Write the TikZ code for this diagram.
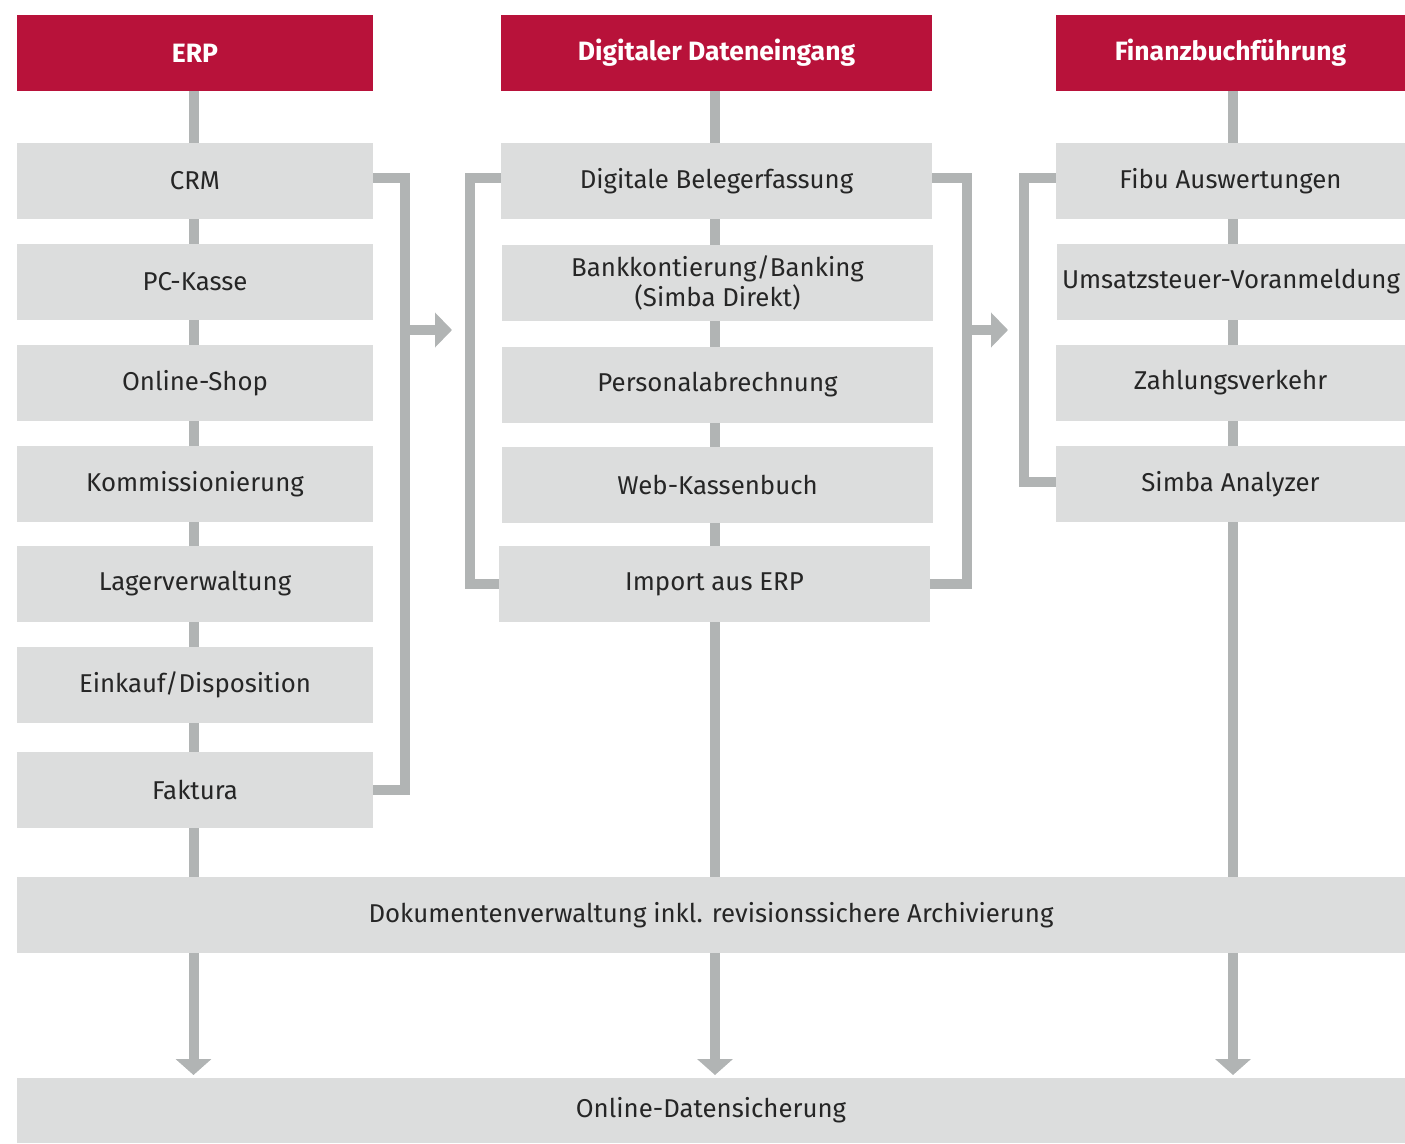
\documentclass[tikz,border=0pt]{standalone}
\usepackage{fontspec}
\setmainfont{Fira Sans}
\usetikzlibrary{arrows.meta}
\definecolor{hdrred}{HTML}{B8123A}
\definecolor{boxgray}{HTML}{DCDDDD}
\definecolor{linegray}{HTML}{B1B4B4}
\tikzset{
  hdr/.style={fill=hdrred, text=white, inner sep=0pt, minimum height=76pt, font=\fontsize{26.5}{30}\selectfont\bfseries},
  gbox/.style={fill=boxgray, text=black!85, inner sep=0pt, minimum height=76pt, font=\fontsize{25.8}{29.5}\selectfont, align=center},
  conn/.style={draw=linegray, line width=10pt},
  downarrow/.style={conn, -{Triangle[width=35pt,length=16pt]}},
  rightarrow/.style={conn, -{Triangle[width=34pt,length=17pt]}},
}
\begin{document}
\begin{tikzpicture}[x=1pt,y=-1pt]
\useasboundingbox (0,0) rectangle (1405,1143);
% headers
\node[hdr, minimum width=356pt] (h1) at (195,53) {ERP};
\node[hdr, minimum width=431pt] (h2) at (716.5,53) {Digitaler Dateneingang};
\node[hdr, minimum width=349pt] (h3) at (1230.5,53) {Finanzbuchführung};
% column end coordinates
\coordinate (e1) at (193.5,1075);
\coordinate (e2) at (715,1075);
\coordinate (e3) at (1233,1075);
% column lines
\draw[downarrow] (193.5,91) -- (e1);
\draw[downarrow] (715,91) -- (e2);
\draw[downarrow] (1233,91) -- (e3);
% brackets
\coordinate (b1t) at (404.5,178);
\coordinate (b1b) at (404.5,790);
\coordinate (a1) at (452,330);
\coordinate (b2t) at (469.5,178);
\coordinate (b2b) at (469.5,584);
\coordinate (b3t) at (967,178);
\coordinate (b3b) at (967,584);
\coordinate (a2) at (1008,330);
\coordinate (b4t) at (1024,178);
\coordinate (b4b) at (1024,482);
% left column
\node[gbox, minimum width=356pt] (crm) at (195,181) {CRM};
\node[gbox, minimum width=356pt] (pck) at (195,282) {PC-Kasse};
\node[gbox, minimum width=356pt] (osh) at (195,383) {Online-Shop};
\node[gbox, minimum width=356pt] (kom) at (195,484) {Kommissionierung};
\node[gbox, minimum width=356pt] (lag) at (195,584) {Lagerverwaltung};
\node[gbox, minimum width=356pt] (ein) at (195,685) {Einkauf/Disposition};
\node[gbox, minimum width=356pt] (fak) at (195,790) {Faktura};
% middle column
\node[gbox, minimum width=431pt] (dbe) at (716.5,181) {Digitale Belegerfassung};
\node[gbox, minimum width=431pt] (bank) at (717.5,283) {Bankkontierung/Banking\\(Simba Direkt)};
\node[gbox, minimum width=431pt] (pers) at (717.5,385) {Personalabrechnung};
\node[gbox, minimum width=431pt] (web) at (717.5,485) {Web-Kassenbuch};
\node[gbox, minimum width=431pt] (imp) at (714.5,584) {Import aus ERP};
% right column
\node[gbox, minimum width=349pt] (fibu) at (1230.5,181) {Fibu Auswertungen};
\node[gbox, minimum width=348pt] (ust) at (1231,282) {Umsatzsteuer-Voranmeldung};
\node[gbox, minimum width=349pt] (zv) at (1230.5,383) {Zahlungsverkehr};
\node[gbox, minimum width=349pt] (sa) at (1230.5,484) {Simba Analyzer};
% bottom
\node[gbox, minimum width=1388pt] (dok) at (711,915) {Dokumentenverwaltung inkl. revisionssichere Archivierung};
\node[gbox, minimum width=1388pt, minimum height=65pt] (ods) at (711,1110.5) {Online-Datensicherung};
% bracket lines
\draw[conn] (crm.east |- b1t) -- (b1t) -- (b1b) -- (fak.east |- b1b);
\draw[rightarrow] (b1t |- a1) -- (a1);
\draw[conn] (dbe.west |- b2t) -- (b2t) -- (b2b) -- (imp.west |- b2b);
\draw[conn] (dbe.east |- b3t) -- (b3t) -- (b3b) -- (imp.east |- b3b);
\draw[rightarrow] (b3t |- a2) -- (a2);
\draw[conn] (fibu.west |- b4t) -- (b4t) -- (b4b) -- (sa.west |- b4b);
\end{tikzpicture}
\end{document}
